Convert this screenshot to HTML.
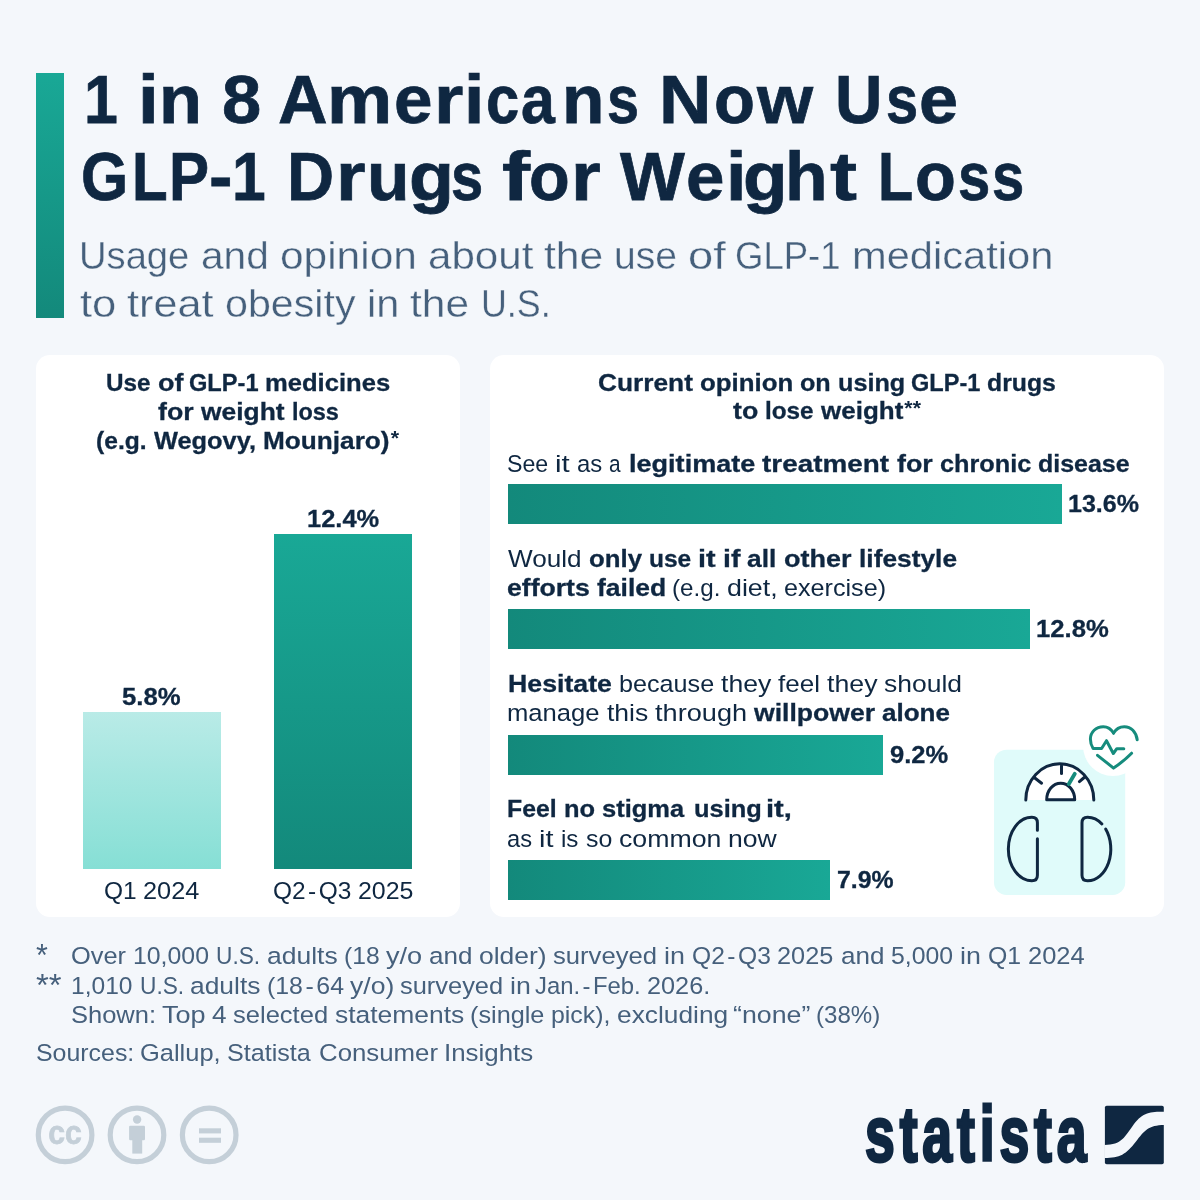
<!DOCTYPE html>
<html lang="en">
<head>
<meta charset="utf-8">
<title>1 in 8 Americans Now Use GLP-1 Drugs for Weight Loss</title>
<style>
html,body{margin:0;padding:0}
body{width:1200px;height:1200px;position:relative;overflow:hidden;background:#f4f7fb;font-family:"Liberation Sans",Arial,sans-serif}
.ln{position:absolute;left:0;white-space:nowrap;margin:0}
.t{position:absolute;top:0;white-space:nowrap;transform-origin:0 0}
.c{display:inline-block;transform-origin:0 0;white-space:pre;vertical-align:baseline}
.t b,.c b{font-weight:700;-webkit-text-stroke:0.3px currentColor}
.bd .t,.bd .c{-webkit-text-stroke:0.3px currentColor}
#t1 .t,#t2 .t,#t1 .c,#t2 .c{-webkit-text-stroke:0.75px currentColor}
#s1 .t,#s2 .t,#s1 .c,#s2 .c{-webkit-text-stroke:0.34px #f4f7fb}
.t sup,.c sup{font-size:0.82em;line-height:0;vertical-align:baseline;position:relative;top:-0.2em;margin-left:1px;-webkit-text-stroke:0}
.hy{margin:0 2.5px}
.ast{font-size:1.3em;line-height:0;position:relative;top:0.07em}
#logo .t,#logo .c{-webkit-text-stroke:3px #0f2741;letter-spacing:7px}
.accent{position:absolute;left:36px;top:73px;width:28px;height:245px;background:linear-gradient(180deg,#19a896 0%,#13897b 100%)}
.panel{position:absolute;top:355px;height:562px;background:#fff;border-radius:14px}
#pl{left:36px;width:424px}
#pr{left:490px;width:674px}
.vb{position:absolute;width:138.3px}
#vb1{left:82.5px;top:712px;height:156.7px;background:linear-gradient(180deg,#b9ebe7 0%,#86dfd5 100%)}
#vb2{left:274.2px;top:533.8px;height:334.9px;background:linear-gradient(180deg,#19a896 0%,#13897b 100%)}
.hb{position:absolute;left:508px;height:40px;background:linear-gradient(90deg,#13897b 0%,#19a896 100%)}
svg{position:absolute;overflow:visible}
</style>
</head>
<body>
<div class="accent"></div>
<div class="panel" id="pl"></div>
<div class="panel" id="pr"></div>
<div class="vb" id="vb1"></div>
<div class="vb" id="vb2"></div>
<div class="hb" style="top:484.0px;width:554.3px"></div>
<div class="hb" style="top:609.25px;width:522.1px"></div>
<div class="hb" style="top:734.5px;width:375.0px"></div>
<div class="hb" style="top:860.0px;width:322.0px"></div>
<svg width="1200" height="1200" viewBox="0 0 1200 1200" style="left:0;top:0">
<rect x="994.0" y="749.7" width="131.2" height="145.3" rx="12.5" fill="#e0fbfa"/>
<circle cx="1112.9" cy="746.2" r="29.8" fill="#ffffff"/>
<path d="M1025.8 800.0 A34.0 36.2 0 0 1 1093.8 800.0 Z" fill="#ffffff"/>
<path d="M1025.8 800.0 A34.0 36.2 0 0 1 1093.8 800.0" fill="none" stroke="#0f2741" stroke-width="3.0" stroke-linecap="round"/>
<path d="M1046.7 799.7 A14.0 16.5 0 0 1 1074.7 799.7 Z" fill="#ffffff" stroke="#0f2741" stroke-width="3.0" stroke-linejoin="round"/>
<line x1="1061.5" y1="765.6" x2="1061.5" y2="773.6" stroke="#0f2741" stroke-width="3.0" stroke-linecap="round"/>
<line x1="1034.2" y1="777.5" x2="1041.6" y2="783.2" stroke="#0f2741" stroke-width="3.0" stroke-linecap="round"/>
<line x1="1079.4" y1="781.6" x2="1084.2" y2="777.5" stroke="#0f2741" stroke-width="3.0" stroke-linecap="round"/>
<line x1="1068.8" y1="784.0" x2="1074.8" y2="773.8" stroke="#168c7d" stroke-width="3.8" stroke-linecap="round"/>
<path d="M1037.4 830.2 V822.8 Q1037.4 817.3 1031.9 817.3 H1031.75 A23.4 31.7 0 0 0 1031.75 880.7 H1031.9 Q1037.4 880.7 1037.4 875.2 V838.8" fill="none" stroke="#0f2741" stroke-width="3.0" stroke-linecap="round" stroke-linejoin="round"/>
<path d="M1101.92 824.02 A23.1 31.7 0 0 0 1087.70 817.3 H1087.5 Q1082.0 817.3 1082.0 822.8 V875.2 Q1082.0 880.7 1087.5 880.7 H1087.70 A23.1 31.7 0 0 0 1105.65 829.05" fill="none" stroke="#0f2741" stroke-width="3.0" stroke-linecap="round" stroke-linejoin="round"/>
<path d="M1113.55 733.1 C1111.5 729.5 1108 726.7 1103.3 726.7 C1096 726.7 1090.4 732 1090.4 739 C1090.4 742.8 1091.5 746 1093.1 748.5 H1101.6 L1106.5 740.7 L1113.3 753.5 L1116.8 748.7 H1123.8" fill="none" stroke="#168c7d" stroke-width="3.0" stroke-linecap="round" stroke-linejoin="round"/>
<path d="M1113.55 733.1 C1115.6 729.5 1119.5 726.7 1124.3 726.7 C1131 726.7 1136.2 731.8 1137.2 739.8" fill="none" stroke="#168c7d" stroke-width="3.0" stroke-linecap="round" stroke-linejoin="round"/>
<path d="M1131.6 753.2 Q1124 761 1113.55 768.1 L1097.5 755.3" fill="none" stroke="#168c7d" stroke-width="3.0" stroke-linecap="round" stroke-linejoin="round"/>
</svg>
<div class="ln bd" id="t1" style="left:84.20312px;top:58.59px;font-size:69px;line-height:82.8px;font-weight:700;color:#0f2741"><span class="c" style="width:53.59375px;transform:scaleX(0.8816)">1 </span><span class="c" style="width:21.57812px;transform:scaleX(1.0782)">i</span><span class="c" style="width:62.60938px;transform:scaleX(1.0198)">n </span><span class="c" style="width:55.93750px;transform:scaleX(1.0214)">8 </span><span class="c" style="width:49.03125px;transform:scaleX(0.9937)">A</span><span class="c" style="width:66.90625px;transform:scaleX(1.0623)">m</span><span class="c" style="width:40.21875px;transform:scaleX(1.0033)">e</span><span class="c" style="width:30.28125px;transform:scaleX(1.0926)">r</span><span class="c" style="width:21.76562px;transform:scaleX(1.0623)">i</span><span class="c" style="width:35.26562px;transform:scaleX(0.8653)">c</span><span class="c" style="width:40.85938px;transform:scaleX(0.8821)">a</span><span class="c" style="width:44.92188px;transform:scaleX(1.0054)">n</span><span class="c" style="width:51.95312px;transform:scaleX(0.8335)">s </span><span class="c" style="width:55.00000px;transform:scaleX(1.0517)">N</span><span class="c" style="width:42.76562px;transform:scaleX(0.9713)">o</span><span class="c" style="width:77.92188px;transform:scaleX(1.0448)">w </span><span class="c" style="width:51.21875px;transform:scaleX(0.9503)">U</span><span class="c" style="width:33.29688px;transform:scaleX(0.8371)">s</span><span class="c" style="transform:scaleX(1.0172)">e</span></div>
<div class="ln bd" id="t2" style="left:80.96875px;top:136.49px;font-size:69px;line-height:82.8px;font-weight:700;color:#0f2741"><span class="c" style="width:50.84375px;transform:scaleX(0.8790)">G</span><span class="c" style="width:37.09375px;transform:scaleX(0.8453)">L</span><span class="c" style="width:40.09375px;transform:scaleX(0.8701)">P</span><span class="c" style="width:22.98438px;transform:scaleX(1.0213)">-</span><span class="c" style="width:54.59375px;transform:scaleX(0.8778)">1 </span><span class="c" style="width:49.28125px;transform:scaleX(0.9452)">D</span><span class="c" style="width:31.56250px;transform:scaleX(1.0984)">r</span><span class="c" style="width:41.45312px;transform:scaleX(1.0091)">u</span><span class="c" style="width:42.42188px;transform:scaleX(1.0674)">g</span><span class="c" style="width:50.95312px;transform:scaleX(0.8381)">s </span><span class="c" style="width:26.73438px;transform:scaleX(1.2231)">f</span><span class="c" style="width:41.85938px;transform:scaleX(0.9659)">o</span><span class="c" style="width:49.39062px;transform:scaleX(1.1031)">r </span><span class="c" style="width:65.81250px;transform:scaleX(0.9951)">W</span><span class="c" style="width:39.62500px;transform:scaleX(1.0012)">e</span><span class="c" style="width:17.85938px;transform:scaleX(1.0701)">i</span><span class="c" style="width:41.65625px;transform:scaleX(1.0559)">g</span><span class="c" style="width:44.90625px;transform:scaleX(1.0106)">h</span><span class="c" style="width:48.43750px;transform:scaleX(1.1750)">t </span><span class="c" style="width:36.89062px;transform:scaleX(0.8338)">L</span><span class="c" style="width:43.10938px;transform:scaleX(0.9683)">o</span><span class="c" style="width:33.79688px;transform:scaleX(0.8400)">s</span><span class="c" style="transform:scaleX(0.8398)">s</span></div>
<div class="ln" id="s1" style="left:79.21875px;top:232.59px;font-size:39px;line-height:46.8px;font-weight:400;color:#46607c"><span class="c" style="width:121.31250px;transform:scaleX(0.9785)">Usage </span><span class="c" style="width:79.62500px;transform:scaleX(1.0419)">and </span><span class="c" style="width:147.73438px;transform:scaleX(1.0878)">opinion </span><span class="c" style="width:116.09375px;transform:scaleX(1.0803)">about </span><span class="c" style="width:70.45312px;transform:scaleX(1.0952)">the </span><span class="c" style="width:73.95312px;transform:scaleX(1.0040)">use </span><span class="c" style="width:46.84375px;transform:scaleX(1.1587)">of </span><span class="c" style="width:116.81250px;transform:scaleX(0.9365)">GLP-1 </span><span class="c" style="transform:scaleX(1.0673)">medication</span></div>
<div class="ln" id="s2" style="left:80.00000px;top:280.59px;font-size:39px;line-height:46.8px;font-weight:400;color:#46607c"><span class="c" style="width:47.35938px;transform:scaleX(1.1152)">to </span><span class="c" style="width:97.93750px;transform:scaleX(1.1094)">treat </span><span class="c" style="width:141.65625px;transform:scaleX(1.0568)">obesity </span><span class="c" style="width:43.48438px;transform:scaleX(1.0614)">in </span><span class="c" style="width:70.67188px;transform:scaleX(1.0894)">the </span><span class="c" style="transform:scaleX(0.9186)">U.S.</span></div>
<div class="ln bd" id="lh1" style="left:106.21875px;top:367.61px;font-size:24.5px;line-height:29.4px;font-weight:700;color:#0f2741"><span class="c" style="width:51.35938px;transform:scaleX(0.9903)">Use </span><span class="c" style="width:31.57812px;transform:scaleX(1.1000)">of </span><span class="c" style="width:75.78125px;transform:scaleX(0.9642)">GLP-1 </span><span class="c" style="transform:scaleX(1.0445)">medicines</span></div>
<div class="ln bd" id="lh2" style="left:158.14062px;top:396.71px;font-size:24.5px;line-height:29.4px;font-weight:700;color:#0f2741"><span class="c" style="width:42.75000px;transform:scaleX(1.0903)">for </span><span class="c" style="width:91.06250px;transform:scaleX(1.0768)">weight </span><span class="c" style="transform:scaleX(0.9556)">loss</span></div>
<div class="ln bd" id="lh3" style="left:96.46875px;top:426.01px;font-size:24.5px;line-height:29.4px;font-weight:700;color:#0f2741"><span class="c" style="width:57.35938px;transform:scaleX(1.0050)">(e.g. </span><span class="c" style="width:109.17188px;transform:scaleX(1.0350)">Wegovy, </span><span class="c" style="transform:scaleX(1.0689)">Mounjaro)<sup>*</sup></span></div>
<div class="ln bd" id="v1" style="left:122.18750px;top:681.51px;font-size:24.5px;line-height:29.4px;font-weight:700;color:#0f2741"><span class="c" style="transform:scaleX(1.0502)">5.8%</span></div>
<div class="ln bd" id="v2" style="left:307.17188px;top:503.81px;font-size:24.5px;line-height:29.4px;font-weight:700;color:#0f2741"><span class="c" style="transform:scaleX(1.0390)">12.4%</span></div>
<div class="ln" id="q1" style="left:103.79688px;top:876.01px;font-size:24.5px;line-height:29.4px;font-weight:400;color:#0f2741"><span class="c" style="width:39.21875px;transform:scaleX(1.0003)">Q1 </span><span class="c" style="transform:scaleX(1.0335)">2024</span></div>
<div class="ln" id="q2" style="left:272.95312px;top:876.01px;font-size:24.5px;line-height:29.4px;font-weight:400;color:#0f2741"><span class="c" style="width:85.07812px;transform:scaleX(0.9982)">Q2<span class="hy">-</span>Q3 </span><span class="c" style="transform:scaleX(1.0181)">2025</span></div>
<div class="ln bd" id="rh1" style="left:597.78125px;top:367.61px;font-size:24.5px;line-height:29.4px;font-weight:700;color:#0f2741"><span class="c" style="width:102.20312px;transform:scaleX(1.0730)">Current </span><span class="c" style="width:100.20312px;transform:scaleX(1.0536)">opinion </span><span class="c" style="width:38.10938px;transform:scaleX(1.0261)">on </span><span class="c" style="width:73.07812px;transform:scaleX(1.0294)">using </span><span class="c" style="width:75.82812px;transform:scaleX(0.9606)">GLP-1 </span><span class="c" style="transform:scaleX(1.0122)">drugs</span></div>
<div class="ln bd" id="rh2" style="left:733.04688px;top:396.41px;font-size:24.5px;line-height:29.4px;font-weight:700;color:#0f2741"><span class="c" style="width:32.14062px;transform:scaleX(1.0901)">to </span><span class="c" style="width:55.95312px;transform:scaleX(0.9914)">lose </span><span class="c" style="transform:scaleX(1.0608)">weight<sup>**</sup></span></div>
<div class="ln" id="a1" style="left:507.26562px;top:449.11px;font-size:24.5px;line-height:29.4px;font-weight:400;color:#0f2741"><span class="c" style="width:47.87500px;transform:scaleX(0.9467)">See </span><span class="c" style="width:21.79688px;transform:scaleX(1.1998)">it </span><span class="c" style="width:31.92188px;transform:scaleX(0.9743)">as </span><span class="c" style="width:20.28125px;transform:scaleX(0.8502)">a </span><span class="c" style="width:133.26562px;transform:scaleX(1.1047)"><b>legitimate</b> </span><span class="c" style="width:134.46875px;transform:scaleX(1.1377)"><b>treatment</b> </span><span class="c" style="width:42.79688px;transform:scaleX(1.0937)"><b>for</b> </span><span class="c" style="width:98.57812px;transform:scaleX(1.0322)"><b>chronic</b> </span><span class="c" style="transform:scaleX(1.0193)"><b>disease</b></span></div>
<div class="ln bd" id="p1" style="left:1068.28125px;top:489.21px;font-size:24.5px;line-height:29.4px;font-weight:700;color:#0f2741"><span class="c" style="transform:scaleX(1.0228)">13.6%</span></div>
<div class="ln" id="b1" style="left:508.06250px;top:543.51px;font-size:24.5px;line-height:29.4px;font-weight:400;color:#0f2741"><span class="c" style="width:80.93750px;transform:scaleX(1.0674)">Would </span><span class="c" style="width:60.20312px;transform:scaleX(1.0518)"><b>only</b> </span><span class="c" style="width:49.21875px;transform:scaleX(0.9998)"><b>use</b> </span><span class="c" style="width:24.90625px;transform:scaleX(1.1760)"><b>it</b> </span><span class="c" style="width:23.82812px;transform:scaleX(1.1635)"><b>if</b> </span><span class="c" style="width:36.51562px;transform:scaleX(1.0742)"><b>all</b> </span><span class="c" style="width:74.90625px;transform:scaleX(1.1021)"><b>other</b> </span><span class="c" style="transform:scaleX(1.0743)"><b>lifestyle</b></span></div>
<div class="ln" id="b2" style="left:507.34375px;top:573.21px;font-size:24.5px;line-height:29.4px;font-weight:400;color:#0f2741"><span class="c" style="width:89.78125px;transform:scaleX(1.0855)"><b>efforts</b> </span><span class="c" style="width:75.32812px;transform:scaleX(1.0816)"><b>failed</b> </span><span class="c" style="width:54.45312px;transform:scaleX(0.9869)">(e.g. </span><span class="c" style="width:57.10938px;transform:scaleX(1.0943)">diet, </span><span class="c" style="transform:scaleX(1.0269)">exercise)</span></div>
<div class="ln bd" id="p2" style="left:1036.35938px;top:614.31px;font-size:24.5px;line-height:29.4px;font-weight:700;color:#0f2741"><span class="c" style="transform:scaleX(1.0468)">12.8%</span></div>
<div class="ln" id="c1" style="left:507.81250px;top:668.81px;font-size:24.5px;line-height:29.4px;font-weight:400;color:#0f2741"><span class="c" style="width:110.78125px;transform:scaleX(1.0897)"><b>Hesitate</b> </span><span class="c" style="width:102.40625px;transform:scaleX(1.0277)">because </span><span class="c" style="width:56.93750px;transform:scaleX(1.0858)">they </span><span class="c" style="width:48.79688px;transform:scaleX(1.0614)">feel </span><span class="c" style="width:56.98438px;transform:scaleX(1.0903)">they </span><span class="c" style="transform:scaleX(1.0808)">should</span></div>
<div class="ln" id="c2" style="left:506.90625px;top:698.41px;font-size:24.5px;line-height:29.4px;font-weight:400;color:#0f2741"><span class="c" style="width:99.62500px;transform:scaleX(1.0460)">manage </span><span class="c" style="width:48.48438px;transform:scaleX(1.0826)">this </span><span class="c" style="width:99.21875px;transform:scaleX(1.1083)">through </span><span class="c" style="width:128.20312px;transform:scaleX(1.0848)"><b>willpower</b> </span><span class="c" style="transform:scaleX(1.0627)"><b>alone</b></span></div>
<div class="ln bd" id="p3" style="left:890.32812px;top:740.01px;font-size:24.5px;line-height:29.4px;font-weight:700;color:#0f2741"><span class="c" style="transform:scaleX(1.0422)">9.2%</span></div>
<div class="ln" id="d1" style="left:507.14062px;top:793.81px;font-size:24.5px;line-height:29.4px;font-weight:400;color:#0f2741"><span class="c" style="width:57.03125px;transform:scaleX(1.0131)"><b>Feel</b> </span><span class="c" style="width:38.10938px;transform:scaleX(1.0382)"><b>no</b> </span><span class="c" style="width:91.51562px;transform:scaleX(1.0400)"><b>stigma</b> </span><span class="c" style="width:72.64062px;transform:scaleX(1.0372)"><b>using</b> </span><span class="c" style="transform:scaleX(1.1889)"><b>it,</b></span></div>
<div class="ln" id="d2" style="left:507.23438px;top:823.51px;font-size:24.5px;line-height:29.4px;font-weight:400;color:#0f2741"><span class="c" style="width:32.12500px;transform:scaleX(0.9672)">as </span><span class="c" style="width:21.92188px;transform:scaleX(1.1797)">it </span><span class="c" style="width:24.42188px;transform:scaleX(0.9869)">is </span><span class="c" style="width:33.01562px;transform:scaleX(1.0168)">so </span><span class="c" style="width:109.67188px;transform:scaleX(1.0902)">common </span><span class="c" style="transform:scaleX(1.0841)">now</span></div>
<div class="ln bd" id="p4" style="left:837.20312px;top:865.41px;font-size:24.5px;line-height:29.4px;font-weight:700;color:#0f2741"><span class="c" style="transform:scaleX(1.0134)">7.9%</span></div>
<div class="ln" id="f1" style="left:36.32812px;top:940.56px;font-size:24.5px;line-height:29.4px;font-weight:400;color:#46607c"><span class="c" style="width:34.42188px;transform:scaleX(0.9556)"><span class="ast">*</span> </span><span class="c" style="width:62.45312px;transform:scaleX(1.0358)">Over </span><span class="c" style="width:83.18750px;transform:scaleX(1.0133)">10,000 </span><span class="c" style="width:50.31250px;transform:scaleX(0.9256)">U.S. </span><span class="c" style="width:76.87500px;transform:scaleX(1.0814)">adults </span><span class="c" style="width:42.10938px;transform:scaleX(1.0073)">(18 </span><span class="c" style="width:42.85938px;transform:scaleX(1.1076)">y/o </span><span class="c" style="width:50.76562px;transform:scaleX(1.0629)">and </span><span class="c" style="width:73.70312px;transform:scaleX(1.0805)">older) </span><span class="c" style="width:110.92188px;transform:scaleX(1.0457)">surveyed </span><span class="c" style="width:28.10938px;transform:scaleX(1.0958)">in </span><span class="c" style="width:85.42188px;transform:scaleX(1.0039)">Q2<span class="hy">-</span>Q3 </span><span class="c" style="width:63.17188px;transform:scaleX(1.0322)">2025 </span><span class="c" style="width:50.82812px;transform:scaleX(1.0624)">and </span><span class="c" style="width:69.09375px;transform:scaleX(1.0115)">5,000 </span><span class="c" style="width:27.76562px;transform:scaleX(1.0959)">in </span><span class="c" style="width:39.40625px;transform:scaleX(1.0134)">Q1 </span><span class="c" style="transform:scaleX(1.0398)">2024</span></div>
<div class="ln" id="f2" style="left:36.28125px;top:970.56px;font-size:24.5px;line-height:29.4px;font-weight:400;color:#46607c"><span class="c" style="width:35.09375px;transform:scaleX(1.0317)"><span class="ast">**</span> </span><span class="c" style="width:68.73438px;transform:scaleX(1.0026)">1,010 </span><span class="c" style="width:50.15625px;transform:scaleX(0.9259)">U.S. </span><span class="c" style="width:76.42188px;transform:scaleX(1.0772)">adults </span><span class="c" style="width:83.17188px;transform:scaleX(1.0153)">(18<span class="hy">-</span>64 </span><span class="c" style="width:50.06250px;transform:scaleX(1.0843)">y/o) </span><span class="c" style="width:110.32812px;transform:scaleX(1.0376)">surveyed </span><span class="c" style="width:24.78125px;transform:scaleX(1.0919)">in </span><span class="c" style="width:111.57812px;transform:scaleX(0.9743)">Jan.<span class="hy">-</span>Feb. </span><span class="c" style="transform:scaleX(1.0312)">2026.</span></div>
<div class="ln" id="f3" style="left:71.04688px;top:1000.06px;font-size:24.5px;line-height:29.4px;font-weight:400;color:#46607c"><span class="c" style="width:90.60938px;transform:scaleX(1.0407)">Shown: </span><span class="c" style="width:50.48438px;transform:scaleX(1.1043)">Top </span><span class="c" style="width:20.54688px;transform:scaleX(1.0651)">4 </span><span class="c" style="width:102.06250px;transform:scaleX(1.0422)">selected </span><span class="c" style="width:135.07812px;transform:scaleX(1.0794)">statements </span><span class="c" style="width:81.59375px;transform:scaleX(1.0310)">(single </span><span class="c" style="width:65.93750px;transform:scaleX(1.0160)">pick), </span><span class="c" style="width:115.93750px;transform:scaleX(1.0739)">excluding </span><span class="c" style="width:82.65625px;transform:scaleX(1.0913)">“none” </span><span class="c" style="transform:scaleX(0.9836)">(38%)</span></div>
<div class="ln" id="f4" style="left:35.51562px;top:1038.06px;font-size:24.5px;line-height:29.4px;font-weight:400;color:#46607c"><span class="c" style="width:104.62500px;transform:scaleX(1.0163)">Sources: </span><span class="c" style="width:86.68750px;transform:scaleX(1.0386)">Gallup, </span><span class="c" style="width:92.21875px;transform:scaleX(1.0248)">Statista </span><span class="c" style="width:125.43750px;transform:scaleX(1.0532)">Consumer </span><span class="c" style="transform:scaleX(1.0562)">Insights</span></div>
<div class="ln" id="logo" style="left:864.59375px;top:1088.12px;font-size:77px;line-height:92.4px;font-weight:700;color:#0f2741"><span class="c" style="transform:scaleX(0.6952)">statista</span></div>
<svg width="1200" height="1200" viewBox="0 0 1200 1200" style="left:0;top:0">
<circle cx="65.1" cy="1134.9" r="26.8" fill="none" stroke="#c4cfd8" stroke-width="5.2"/>
<circle cx="137.0" cy="1134.9" r="26.8" fill="none" stroke="#c4cfd8" stroke-width="5.2"/>
<circle cx="209.2" cy="1134.9" r="26.8" fill="none" stroke="#c4cfd8" stroke-width="5.2"/>
<text id="cctext" x="65.1" y="1143.6" text-anchor="middle" font-family="Liberation Sans, Arial, sans-serif" font-weight="700" font-size="33.5" fill="#c4cfd8" stroke="#c4cfd8" stroke-width="0.8" textLength="33.5" lengthAdjust="spacingAndGlyphs">cc</text>
<circle cx="137.1" cy="1119.5" r="4.2" fill="#c4cfd8"/>
<rect x="129.1" y="1125.8" width="15.9" height="14.4" rx="1.2" fill="#c4cfd8"/>
<rect x="132.3" y="1138" width="9.9" height="15.6" fill="#c4cfd8"/>
<rect x="199.0" y="1128.3" width="22.0" height="5.1" fill="#c4cfd8"/>
<rect x="199.0" y="1137.7" width="22.0" height="5.1" fill="#c4cfd8"/>
</svg>
<svg width="1200" height="1200" viewBox="0 0 1200 1200" style="left:0;top:0">
<rect x="1104.9" y="1105.7" width="58.9" height="58.6" rx="1.8" fill="#0f2741"/>
<path d="M1104.4 1144.9 C1122 1144.9 1124.5 1137 1134 1124 C1143 1112.2 1150 1111.7 1164.3 1111.7 V1124.9 C1148.5 1124.9 1144 1131 1136 1141.5 C1126 1154.5 1120 1158 1104.4 1158 Z" fill="#f4f7fb"/>
</svg>
</body>
</html>
